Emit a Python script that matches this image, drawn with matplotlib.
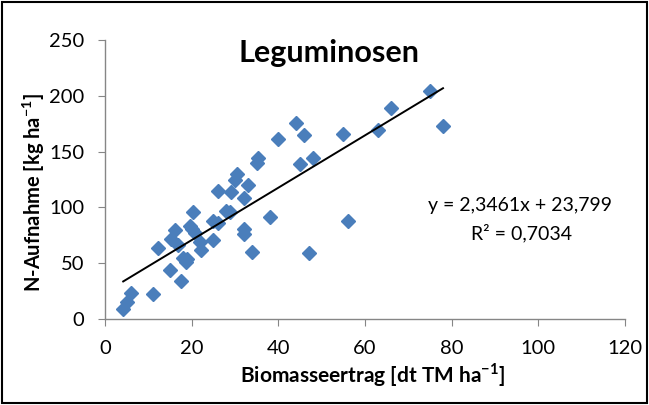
import matplotlib
matplotlib.use('Agg')
import matplotlib.pyplot as plt
import matplotlib.patches as patches
import numpy as np

matplotlib.rcParams['font.family'] = 'Lato'
matplotlib.rcParams['mathtext.fontset'] = 'custom'
matplotlib.rcParams['mathtext.rm'] = 'Lato'
matplotlib.rcParams['mathtext.bf'] = 'Lato:bold'

# Biomasseertrag [dt TM/ha] vs N-Aufnahme [kg/ha]
biomasse = [4.2, 5.0, 6.0, 11.0, 12.2, 15.0, 15.2, 16.2, 16.8, 17.6,
            18.0, 18.6, 19.0, 19.6, 20.3, 20.0, 20.8, 22.0, 22.2, 25.0,
            25.0, 26.0, 26.0, 28.0, 28.8, 29.0, 30.0, 30.5, 32.0, 32.0,
            32.0, 33.0, 34.0, 35.0, 35.3, 38.0, 40.0, 44.0, 46.0, 45.0,
            47.0, 48.0, 55.0, 56.0, 63.0, 66.0, 75.0, 78.0]
n_aufnahme = [9, 15, 23, 22, 64, 44, 72, 80, 66, 34,
              55, 51, 54, 83, 96, 81, 77, 69, 62, 71,
              88, 86, 115, 97, 96, 114, 125, 130, 108, 81,
              76, 120, 60, 140, 144, 91, 161, 176, 165, 139,
              59, 144, 166, 88, 169, 189, 204, 173]

slope = 2.3461
intercept = 23.799
r2 = 0.7034

fig = plt.figure(figsize=(6.49, 4.05), dpi=100)
ax = fig.add_axes([105 / 649, 1 - 319 / 405, 520 / 649, 279 / 405])

ax.plot(biomasse, n_aufnahme, linestyle='none', marker='D', markersize=7.5,
        color='#4A7EBB', markeredgecolor='#4A7EBB', zorder=3)

xs = np.array([min(biomasse), max(biomasse)])
ax.plot(xs, slope * xs + intercept, color='black', linewidth=1.4, zorder=4)

ax.set_xlim(0, 120)
ax.set_ylim(0, 250)
ax.set_xticks(range(0, 121, 20))
ax.set_yticks(range(0, 251, 50))
for s in ['top', 'right']:
    ax.spines[s].set_visible(False)
for s in ['left', 'bottom']:
    ax.spines[s].set_color('#868686')
    ax.spines[s].set_linewidth(1.0)
ax.tick_params(direction='out', length=5, color='#868686', labelsize=14.5,
               labelcolor='black')
ax.tick_params(axis='y', pad=10)
ax.tick_params(axis='x', pad=10)

ax.set_xlabel(r'Biomasseertrag [dt TM ha$^{\mathbf{-1}}$]', fontsize=15,
              fontweight='bold', va='center')
ax.set_ylabel(r'N-Aufnahme [kg ha$^{\mathbf{-1}}$]', fontsize=14.5,
              fontweight='bold', va='center')
ax.xaxis.set_label_coords(0.515, -0.2)
ax.yaxis.set_label_coords(-0.137, 0.455)

ax.text(0.431, 0.953, 'Leguminosen', transform=ax.transAxes, ha='center',
        va='center', fontsize=22, fontweight='bold')

eq = f'y = {slope:.4f}x + {intercept:.3f}'.replace('.', ',')
ax.text(95.8, 102, eq, ha='center', va='center', fontsize=14)
ax.text(96.2, 77, f'R² = {r2:.4f}'.replace('.', ','), ha='center',
        va='center', fontsize=14)

fig.patches.append(patches.Rectangle((2 / 649, 2 / 405), 645 / 649, 401 / 405,
                                     transform=fig.transFigure, fill=False,
                                     edgecolor='black', linewidth=1.5))

fig.savefig('out.png', dpi=100, facecolor='white')
